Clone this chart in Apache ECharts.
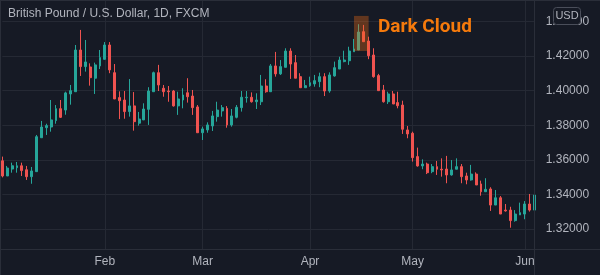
<!DOCTYPE html>
<html>
<head>
<meta charset="utf-8">
<script src="https://cdn.jsdelivr.net/npm/echarts@6/dist/echarts.min.js"></script>
<style>
html,body{margin:0;padding:0;background:#161a25;}
#chart{width:600px;height:275px;}
</style>
</head>
<body>
<div id="chart"></div>
<script>
const title = 'British Pound / U.S. Dollar, 1D, FXCM';
const annotation = 'Dark Cloud';
const currency = 'USD';
const monthNames = ['Jan','Feb','Mar','Apr','May','Jun'];

const dates = [
 '2018-01-03','2018-01-04','2018-01-05','2018-01-08','2018-01-09','2018-01-10','2018-01-11','2018-01-12','2018-01-15','2018-01-16',
 '2018-01-17','2018-01-18','2018-01-19','2018-01-22','2018-01-23','2018-01-24','2018-01-25','2018-01-26','2018-01-29','2018-01-30',
 '2018-01-31','2018-02-01','2018-02-02','2018-02-05','2018-02-06','2018-02-07','2018-02-08','2018-02-09','2018-02-12','2018-02-13',
 '2018-02-14','2018-02-15','2018-02-16','2018-02-19','2018-02-20','2018-02-21','2018-02-22','2018-02-23','2018-02-26','2018-02-27',
 '2018-02-28','2018-03-01','2018-03-02','2018-03-05','2018-03-06','2018-03-07','2018-03-08','2018-03-09','2018-03-12','2018-03-13',
 '2018-03-14','2018-03-15','2018-03-16','2018-03-19','2018-03-20','2018-03-21','2018-03-22','2018-03-23','2018-03-26','2018-03-27',
 '2018-03-28','2018-03-29','2018-03-30','2018-04-02','2018-04-03','2018-04-04','2018-04-05','2018-04-06','2018-04-09','2018-04-10',
 '2018-04-11','2018-04-12','2018-04-13','2018-04-16','2018-04-17','2018-04-18','2018-04-19','2018-04-20','2018-04-23','2018-04-24',
 '2018-04-25','2018-04-26','2018-04-27','2018-04-30','2018-05-01','2018-05-02','2018-05-03','2018-05-04','2018-05-07','2018-05-08',
 '2018-05-09','2018-05-10','2018-05-11','2018-05-14','2018-05-15','2018-05-16','2018-05-17','2018-05-18','2018-05-21','2018-05-22',
 '2018-05-23','2018-05-24','2018-05-25','2018-05-28','2018-05-29','2018-05-30','2018-05-31','2018-06-01','2018-06-04','2018-06-05'
];

const opens = [
 1.3595,1.3507,1.3547,1.3555,1.3566,1.3543,1.3503,1.3532,1.3728,1.3786,
 1.3790,1.3827,1.3896,1.3888,1.3981,1.3994,1.4235,1.4139,1.4137,1.4072,
 1.4143,1.4181,1.4264,1.4104,1.3960,1.3946,1.3879,1.3912,1.3812,1.3831,
 1.3892,1.3994,1.4104,1.4014,1.3998,1.3998,1.3912,1.3946,1.3988,1.3969,
 1.3906,1.3757,1.3773,1.3796,1.3850,1.3883,1.3898,1.3802,1.3846,1.3902,
 1.3959,1.3962,1.3936,1.3936,1.4027,1.3994,1.4143,1.4097,1.4135,1.4229,
 1.4162,1.4081,1.4017,1.4029,1.4039,1.4052,1.4081,1.3998,1.4085,1.4125,
 1.4168,1.4173,1.4225,1.4235,1.4341,1.4287,1.4206,1.4087,1.4004,1.3936,
 1.3981,1.3931,1.3917,1.3773,1.3754,1.3619,1.3565,1.3576,1.3532,1.3561,
 1.3546,1.3547,1.3513,1.3546,1.3561,1.3507,1.3484,1.3518,1.3461,1.3416,
 1.3432,1.3339,1.3381,1.3310,1.3310,1.3249,1.3282,1.3287,1.3345,1.3310
];
const closes = [
 1.3507,1.3553,1.3566,1.3566,1.3538,1.3503,1.3536,1.3734,1.3790,1.3798,
 1.3831,1.3896,1.3846,1.3987,1.4000,1.4235,1.4139,1.4166,1.4075,1.4149,
 1.4191,1.4264,1.4120,1.3952,1.3942,1.3879,1.3912,1.3821,1.3836,1.3894,
 1.3998,1.4104,1.4033,1.3994,1.3994,1.3912,1.3952,1.3975,1.3965,1.3902,
 1.3757,1.3779,1.3802,1.3854,1.3888,1.3902,1.3802,1.3854,1.3904,1.3962,
 1.3962,1.3936,1.3946,1.4027,1.3994,1.4143,1.4097,1.4139,1.4229,1.4154,
 1.4072,1.4017,1.4029,1.4046,1.4058,1.4081,1.3998,1.4091,1.4133,1.4177,
 1.4177,1.4229,1.4241,1.4339,1.4283,1.4202,1.4081,1.4000,1.3936,1.3981,
 1.3923,1.3913,1.3777,1.3750,1.3613,1.3565,1.3576,1.3526,1.3561,1.3546,
 1.3542,1.3513,1.3542,1.3561,1.3503,1.3484,1.3518,1.3455,1.3416,1.3430,
 1.3339,1.3381,1.3287,1.3305,1.3249,1.3287,1.3295,1.3345,1.3310,1.3397
];
const lows = [
 1.3499,1.3507,1.3526,1.3526,1.3507,1.3484,1.3462,1.3532,1.3728,1.3744,
 1.3763,1.3809,1.3842,1.3861,1.3919,1.3994,1.4085,1.4110,1.4029,1.3981,
 1.4125,1.4181,1.4101,1.3952,1.3836,1.3838,1.3850,1.3769,1.3798,1.3831,
 1.3802,1.3994,1.3998,1.3965,1.3936,1.3908,1.3860,1.3898,1.3931,1.3860,
 1.3757,1.3715,1.3757,1.3767,1.3821,1.3850,1.3786,1.3792,1.3840,1.3879,
 1.3931,1.3931,1.3894,1.3917,1.3988,1.3994,1.4081,1.4091,1.4135,1.4068,
 1.4072,1.4017,1.4017,1.4023,1.4023,1.4020,1.3969,1.3988,1.4081,1.4125,
 1.4164,1.4149,1.4225,1.4235,1.4283,1.4182,1.4075,1.4000,1.3931,1.3923,
 1.3923,1.3898,1.3750,1.3725,1.3590,1.3561,1.3546,1.3518,1.3523,1.3513,
 1.3503,1.3465,1.3509,1.3546,1.3465,1.3459,1.3480,1.3455,1.3393,1.3416,
 1.3305,1.3339,1.3287,1.3301,1.3208,1.3243,1.3282,1.3257,1.3301,1.3310
];
const highs = [
 1.3619,1.3565,1.3584,1.3588,1.3584,1.3565,1.3559,1.3744,1.3825,1.3809,
 1.3946,1.3917,1.3946,1.3994,1.4033,1.4264,1.4351,1.4293,1.4158,1.4162,
 1.4235,1.4281,1.4281,1.4154,1.3996,1.3998,1.4067,1.3992,1.3877,1.3927,
 1.4020,1.4110,1.4149,1.4033,1.4027,1.4004,1.3994,1.4014,1.4072,1.4004,
 1.3917,1.3792,1.3817,1.3883,1.3936,1.3917,1.3911,1.3894,1.3917,1.3998,
 1.3998,1.3990,1.3985,1.4091,1.4066,1.4154,1.4224,1.4177,1.4245,1.4245,
 1.4206,1.4101,1.4062,1.4081,1.4091,1.4104,1.4101,1.4106,1.4168,1.4196,
 1.4231,1.4254,1.4299,1.4384,1.4380,1.4312,1.4245,1.4097,1.4033,1.3994,
 1.3998,1.3994,1.3942,1.3796,1.3763,1.3671,1.3603,1.3584,1.3576,1.3594,
 1.3609,1.3623,1.3599,1.3609,1.3576,1.3526,1.3571,1.3528,1.3480,1.3494,
 1.3442,1.3426,1.3391,1.3345,1.3329,1.3310,1.3353,1.3362,1.3403,1.3397
];

// pattern highlight: first and last category of the box, and its price span
const patternStart = '2018-04-13';
const patternEnd = '2018-04-18';
const patternLow = 1.4229;
const patternHigh = 1.4432;

const yMin = 1.3085, yMax = 1.4524;

const ohlc = dates.map((d, i) => [opens[i], closes[i], lows[i], highs[i]]);
function isMonthStart(i) {
  return i > 0 && dates[i].slice(5, 7) !== dates[i - 1].slice(5, 7);
}

const BG = '#161a25', GRID = '#252934', TXT = '#b2b5be', UP = '#26a69a', DOWN = '#ef5350';
const chart = echarts.init(document.getElementById('chart'), null, {renderer: 'canvas'});
chart.setOption({
  backgroundColor: BG,
  animation: false,
  textStyle: {fontFamily: 'Liberation Sans'},
  grid: {left: 2.3, right: 65.3, top: 0, bottom: 26},
  xAxis: {
    type: 'category', data: dates, boundaryGap: false,
    axisLine: {show: true, lineStyle: {color: '#2a2e39', width: 1}},
    axisTick: {show: false},
    axisLabel: {
      color: TXT, fontSize: 12, margin: 7,
      interval: (i) => isMonthStart(i),
      formatter: (v) => monthNames[parseInt(v.slice(5, 7), 10) - 1]
    },
    splitLine: {show: true, interval: (i) => isMonthStart(i), lineStyle: {color: GRID, width: 1}}
  },
  yAxis: {
    type: 'value', position: 'right', min: yMin, max: yMax, splitNumber: 7, scale: true,
    axisLine: {show: false}, axisTick: {show: false},
    axisLabel: {color: TXT, fontSize: 12, margin: 11, showMinLabel: false, showMaxLabel: false,
      formatter: (v) => v.toFixed(5)},
    splitLine: {show: true, lineStyle: {color: GRID, width: 1}}
  },
  series: [{
    type: 'candlestick', data: ohlc, barWidth: 2.4,
    itemStyle: {color: UP, color0: DOWN, borderColor: UP, borderColor0: DOWN, borderWidth: 1},
    markArea: {
      z: 10, silent: true,
      itemStyle: {color: 'rgba(242,108,20,0.34)'},
      data: [[{xAxis: patternStart, yAxis: patternHigh}, {xAxis: patternEnd, yAxis: patternLow}]]
    }
  }],
  graphic: [
    {type: 'text', left: 8, top: 8, z: 20,
     style: {text: title, fill: TXT, font: '12px "Liberation Sans"'}},
    {type: 'text', left: 378, top: 18, z: 20,
     style: {text: annotation, fill: '#f57a0c', font: 'bold 19px Roboto'}},
    {type: 'line', z: 15, shape: {x1: 534.5, y1: 0, x2: 534.5, y2: 275}, style: {stroke: '#2a2e39', lineWidth: 1}},
    {type: 'line', z: 15, shape: {x1: 0, y1: 249.5, x2: 600, y2: 249.5}, style: {stroke: '#2a2e39', lineWidth: 1}},
    {type: 'line', z: 15, shape: {x1: 0.5, y1: 0, x2: 0.5, y2: 275}, style: {stroke: '#2a2e39', lineWidth: 1}},
    {type: 'line', z: 15, shape: {x1: 0, y1: 0.5, x2: 600, y2: 0.5}, style: {stroke: '#2a2e39', lineWidth: 1}},
    {type: 'rect', z: 50, zlevel: 1, shape: {x: 553.5, y: 7.5, width: 27, height: 17, r: 3},
     style: {fill: BG, stroke: '#4a4e5a', lineWidth: 1}},
    {type: 'text', z: 51, zlevel: 1, x: 567, y: 16,
     style: {text: currency, fill: TXT, font: '11px "Liberation Sans"', align: 'center', verticalAlign: 'middle'}}
  ]
});
</script>
</body>
</html>
